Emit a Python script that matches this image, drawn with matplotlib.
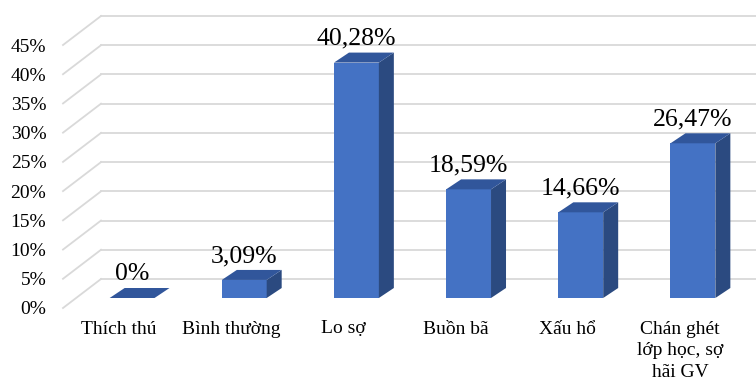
import matplotlib
matplotlib.use('Agg')
import matplotlib.pyplot as plt
from matplotlib.patches import Polygon

# du lieu
categories = ['Thích thú', 'Bình thường', 'Lo sợ', 'Buồn bã', 'Xấu hổ',
              'Chán ghét\nlớp học, sợ\nhãi GV']
values = [0, 3.09, 40.28, 18.59, 14.66, 26.47]
yticks = [0, 5, 10, 15, 20, 25, 30, 35, 40, 45]

# mau
front_col = '#4472c4'
top_col = '#31569b'
side_col = '#2b4a80'
grid_col = '#d9d9d9'

plt.rcParams['font.family'] = ['Liberation Serif', 'DejaVu Serif']

fig = plt.figure(figsize=(7.56, 3.83), dpi=100, facecolor='white')
ax = fig.add_axes([63 / 756, 75 / 383, 673 / 756, 263 / 383])
ax.set_xlim(-0.5, len(categories) - 0.5)
ax.set_ylim(0, 45)

# do sau gia 3D (don vi du lieu)
px_x = 673 / len(categories)
px_y = 263 / 45
DXB, DYB = 38 / px_x, 29 / px_y      # tuong sau
DXF, DYF = 13 / px_x, 10 / px_y      # mat truoc cot
DXK, DYK = 28 / px_x, 20 / px_y      # mat sau cot
W = 0.2

# luoi: duong cheo + duong ngang o tuong sau
for t in yticks:
    ax.plot([-0.5, -0.5 + DXB], [t, t + DYB], color=grid_col, lw=1.3,
            clip_on=False, zorder=1)
    ax.plot([-0.5 + DXB, len(categories) + 0.5], [t + DYB, t + DYB],
            color=grid_col, lw=1.3, clip_on=False, zorder=1)

for i, v in enumerate(values):
    x0 = i - W + DXF
    x1 = i + W + DXF
    y0 = DYF
    y1 = v + DYF
    # mat truoc
    if v > 0:
        ax.add_patch(Polygon([(x0, y0), (x1, y0), (x1, y1), (x0, y1)],
                             closed=True, fc=front_col, ec='none', zorder=3))
        # mat ben
        ax.add_patch(Polygon([(x1, y0), (x1 + DXK - DXF, y0 + DYK - DYF),
                              (x1 + DXK - DXF, y1 + DYK - DYF), (x1, y1)],
                             closed=True, fc=side_col, ec='none', zorder=3))
    # mat tren
    ax.add_patch(Polygon([(x0, y1), (x1, y1),
                          (x1 + DXK - DXF, y1 + DYK - DYF),
                          (x0 + DXK - DXF, y1 + DYK - DYF)],
                         closed=True, fc=top_col, ec='none', zorder=3))
    if v == 0:
        lab = '0%'
    else:
        lab = ('%.2f' % v).replace('.', ',') + '%'
    ax.annotate(lab, (i + DXF, v + DYK), xytext=(0, 2),
                textcoords='offset points', ha='center', va='bottom',
                fontsize=18.5, color='black', zorder=4)

ax.set_xticks(range(len(categories)))
ax.set_xticklabels(categories, fontsize=14)
for lb in ax.get_xticklabels():
    lb.set_multialignment('center')
    lb.set_linespacing(1.38)
ax.set_yticks(yticks)
ax.set_yticklabels(['%d%%' % t for t in yticks], fontsize=14)
ax.tick_params(axis='x', length=0, pad=9)
ax.tick_params(axis='y', length=0, pad=12)
for s in ax.spines.values():
    s.set_visible(False)
ax.set_facecolor('none')

fig.savefig('out.png', dpi=100, facecolor='white')
